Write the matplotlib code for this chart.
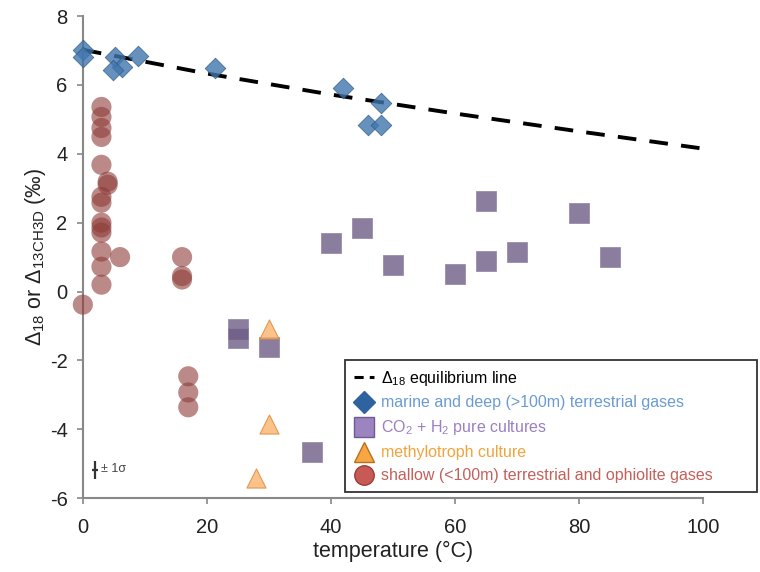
import matplotlib
matplotlib.use("Agg")
import matplotlib.pyplot as plt
from matplotlib.lines import Line2D

plt.rcParams['font.family'] = ['Liberation Sans', 'DejaVu Sans']
plt.rcParams['mathtext.fontset'] = 'custom'
plt.rcParams['mathtext.rm'] = 'Liberation Sans'
plt.rcParams['mathtext.it'] = 'Liberation Sans:italic'
plt.rcParams['axes.unicode_minus'] = False

# --- data ---
eq_temp = [0, 20, 40, 60, 80, 100]
eq_d18 = [7.02, 6.33, 5.72, 5.17, 4.65, 4.15]

marine_temp = [0, 0, 5.2, 6.3, 4.9, 8.9, 21.3, 42, 48, 46, 48]
marine_d18 = [7.0, 6.8, 6.81, 6.52, 6.43, 6.85, 6.49, 5.9, 5.48, 4.84, 4.84]

culture_temp = [25, 25, 30, 37, 40, 45, 50, 60, 65, 65, 70, 80, 85]
culture_d18 = [-1.1, -1.35, -1.6, -4.65, 1.4, 1.85, 0.78, 0.52, 2.64, 0.9, 1.16, 2.29, 1.01]

methylo_temp = [30, 30, 28]
methylo_d18 = [-1.1, -3.85, -5.4]

shallow_temp = [3, 3, 3, 3, 3, 4, 4, 3, 3, 3, 3, 3, 3, 3, 3,
                6, 16, 16, 16, 0, 17, 17, 17]
shallow_d18 = [5.36, 5.07, 4.75, 4.49, 3.68, 3.19, 3.1, 2.75, 2.58, 2.0, 1.86, 1.71,
               1.16, 0.72, 0.2, 1.0, 1.0, 0.45, 0.35, -0.38, -2.46, -2.93, -3.36]

fig = plt.figure(figsize=(7.6, 5.72), dpi=100)
ax = fig.add_axes([0.109, 0.129, 0.816, 0.843])

# equilibrium line
ax.plot(eq_temp, eq_d18, color='black', lw=2.8, dashes=(4.8, 3.4), zorder=2)

ax.scatter(shallow_temp, shallow_d18, s=210, marker='o', color='#8e3b38', alpha=0.6,
           edgecolors='none', clip_on=False, zorder=3)
ax.scatter(culture_temp, culture_d18, s=190, marker='s', color='#6e5c85', alpha=0.8,
           edgecolors='#8f80a3', linewidths=0.6, clip_on=False, zorder=3)
ax.scatter(methylo_temp, methylo_d18, s=190, marker='^', color='#fbb46c', alpha=0.8,
           edgecolors='#d98a3a', linewidths=0.8, clip_on=False, zorder=4)
ax.scatter(marine_temp, marine_d18, s=110, marker='D', color='#4176ad', alpha=0.8,
           edgecolors='#2e5a8a', linewidths=0.6, clip_on=False, zorder=4)

# +/- 1 sigma marker
ax.errorbar([1.9], [-5.17], yerr=0.26, xerr=0.5, fmt='none', ecolor='#333333', elinewidth=1.6)
ax.text(3.0, -5.15, '± 1σ', fontsize=9, color='#444444', va='center', ha='left')

ax.set_xlim(0, 100)
ax.set_ylim(-6, 8)
ax.set_xticks([0, 20, 40, 60, 80, 100])
ax.set_yticks([-6, -4, -2, 0, 2, 4, 6, 8])
ax.tick_params(axis='both', direction='out', length=4, width=1.2, color='#888888',
               labelsize=14.5, labelcolor='#222222')
ax.tick_params(axis='x', pad=10)
ax.tick_params(axis='y', pad=7)
for side in ['top', 'right']:
    ax.spines[side].set_visible(False)
for side in ['left', 'bottom']:
    ax.spines[side].set_color('#888888')
    ax.spines[side].set_linewidth(1.5)

ax.set_xlabel('temperature (°C)', fontsize=15.5, color='#222222', labelpad=3)
ax.set_ylabel(r'$\Delta_{18}$ or $\Delta_{\mathrm{13CH3D}}$ (‰)', fontsize=15.5,
              color='#222222', labelpad=1)

handles = [
    Line2D([], [], color='black', lw=2.2, dashes=(3, 2)),
    Line2D([], [], marker='D', ls='none', markersize=11, color='#2f63a0', mec='#2f63a0'),
    Line2D([], [], marker='s', ls='none', markersize=14, color='#9b84c0', mec='#6f5a94'),
    Line2D([], [], marker='^', ls='none', markersize=14, color='#f7a644', mec='#b87020'),
    Line2D([], [], marker='o', ls='none', markersize=14, color='#c85a55', mec='#9e3c38'),
]
labels = [
    r'$\Delta_{18}$ equilibrium line',
    'marine and deep (>100m) terrestrial gases',
    r'CO$_2$ + H$_2$ pure cultures',
    'methylotroph culture',
    'shallow (<100m) terrestrial and ophiolite gases',
]
leg = ax.legend(handles, labels, loc='lower left',
                bbox_to_anchor=(0.4226, 0.0124, 0.6645, 0.29), mode='expand',
                fontsize=11.5, frameon=True, fancybox=False, edgecolor='black',
                handlelength=1.3, handletextpad=0.4, labelspacing=0.5,
                borderpad=0.55, borderaxespad=0)
leg.get_frame().set_linewidth(1.3)
text_colors = ['black', '#6a9bd1', '#9b7fc4', '#f3a33b', '#c4605a']
for t, c in zip(leg.get_texts(), text_colors):
    t.set_color(c)

fig.savefig('out.png', dpi=100)
